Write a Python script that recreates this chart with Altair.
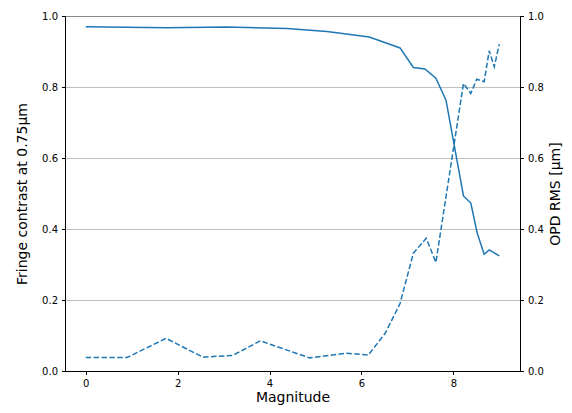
import altair as alt
import pandas as pd

# Fringe contrast (solid line, left axis)
mag_fc = [0, 1.77, 3.07, 4.38, 5.25, 6.17, 6.84, 7.13, 7.38, 7.62, 7.84, 8.22, 8.38, 8.52, 8.67, 8.78, 9.0]
fringe = [0.970, 0.967, 0.969, 0.965, 0.956, 0.941, 0.910, 0.855, 0.851, 0.825, 0.763, 0.493, 0.473, 0.388, 0.329, 0.341, 0.324]

# OPD RMS (dashed line, right axis)
mag_opd = [0, 0.9, 1.75, 2.55, 3.2, 3.8, 4.87, 5.68, 6.15, 6.52, 6.84, 7.13, 7.41, 7.62, 8.22, 8.38, 8.51, 8.67, 8.78, 8.89, 9.0]
opd = [0.038, 0.038, 0.092, 0.039, 0.044, 0.085, 0.037, 0.050, 0.045, 0.107, 0.19, 0.332, 0.374, 0.306, 0.81, 0.782, 0.822, 0.815, 0.902, 0.857, 0.921]

x_ticks = [0, 2, 4, 6, 8]
y_ticks = [0.0, 0.2, 0.4, 0.6, 0.8, 1.0]

df_fc = pd.DataFrame({"mag": mag_fc, "val": fringe})
df_opd = pd.DataFrame({"mag": mag_opd, "val": opd})

FONT = "DejaVu Sans"
COLOR = "#1f77b4"

xenc = alt.X("mag:Q", scale=alt.Scale(domain=[-0.45, 9.45], nice=False, zero=False),
             axis=alt.Axis(values=x_ticks, title="Magnitude", grid=False, format="d",
                           titleFontSize=14, titleFontWeight="normal", titlePadding=2,
                           labelFontSize=10, labelPadding=4, tickSize=3.5,
                           domainColor="black", tickColor="black", labelColor="black",
                           titleColor="black", labelFont=FONT, titleFont=FONT))

left = alt.Chart(df_fc).mark_line(color=COLOR, strokeWidth=1.5).encode(
    x=xenc,
    y=alt.Y("val:Q", scale=alt.Scale(domain=[0, 1], nice=False),
            axis=alt.Axis(values=y_ticks, format=".1f", title="Fringe contrast at 0.75µm",
                          orient="left", grid=False, titleFontSize=14, titleFontWeight="normal",
                          labelFontSize=10, labelPadding=4, tickSize=3.5, titlePadding=12,
                          domainColor="black", tickColor="black", labelColor="black",
                          titleColor="black", labelFont=FONT, titleFont=FONT)),
)

right = alt.Chart(df_opd).mark_line(color=COLOR, strokeWidth=1.5, strokeDash=[5.5, 2.4]).encode(
    x=xenc,
    y=alt.Y("val:Q", scale=alt.Scale(domain=[0, 1], nice=False),
            axis=alt.Axis(values=y_ticks, format=".1f", title="OPD RMS [µm]",
                          orient="right", grid=True, gridColor="#b0b0b0", gridWidth=0.8,
                          titleFontSize=14, titleFontWeight="normal", titleAngle=270,
                          titleBaseline="top",
                          labelFontSize=10, labelPadding=4, tickSize=3.5, titlePadding=5,
                          domainColor="black", tickColor="black", labelColor="black",
                          titleColor="black", labelFont=FONT, titleFont=FONT)),
)

chart = alt.layer(right, left).resolve_scale(y="independent").properties(
    width=455, height=355,
    autosize=alt.AutoSizeParams(type="none"),
    padding={"left": 57, "top": 8, "right": 44, "bottom": 34},
).configure_view(stroke="black", strokeWidth=1)

chart.save("out.html", embed_options={"renderer": "svg", "actions": False})
